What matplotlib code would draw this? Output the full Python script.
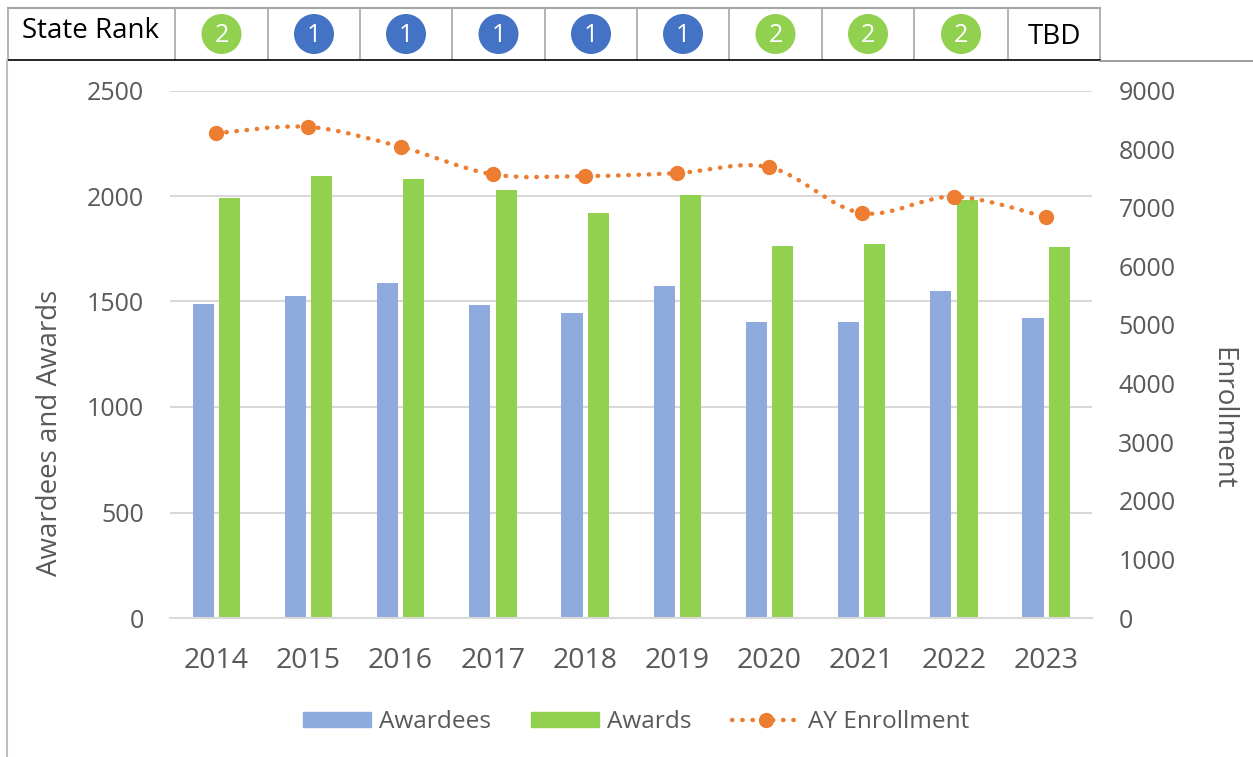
"""Awardees, awards and enrollment per year with a state rank strip on top."""

import matplotlib

matplotlib.use("Agg")
import matplotlib.pyplot as plt
import numpy as np
from matplotlib.lines import Line2D
from matplotlib.patches import Circle, PathPatch
from matplotlib.path import Path

plt.rcParams["font.family"] = ["Open Sans", "DejaVu Sans"]

years = ["2014", "2015", "2016", "2017", "2018", "2019", "2020", "2021", "2022", "2023"]
awardees = [1490, 1528, 1588, 1483, 1447, 1573, 1403, 1403, 1548, 1422]
awards = [1990, 2097, 2082, 2028, 1918, 2007, 1763, 1773, 1982, 1758]
enrollment = [8270, 8380, 8040, 7570, 7540, 7590, 7690, 6910, 7190, 6840]
state_rank = ["2", "1", "1", "1", "1", "1", "2", "2", "2", "TBD"]

W, H = 1253, 757
BLUE = "#8FAADC"
GREEN = "#92D050"
ORANGE = "#ED7D31"
RANK_BLUE = "#4472C4"
TEXT = "#595959"
GRID = "#D9D9D9"
DOTS = (0, (0.1, 2.2))


def smooth_path(xs, ys):
    # same kind of curve as a smoothed Excel line, through the points only
    verts = [(xs[0], ys[0])]
    codes = [Path.MOVETO]
    n = len(xs)
    for i in range(n - 1):
        x0, y0 = xs[max(i - 1, 0)], ys[max(i - 1, 0)]
        x1, y1 = xs[i], ys[i]
        x2, y2 = xs[i + 1], ys[i + 1]
        x3, y3 = xs[min(i + 2, n - 1)], ys[min(i + 2, n - 1)]
        verts += [
            (x1 + (x2 - x0) / 6, y1 + (y2 - y0) / 6),
            (x2 - (x3 - x1) / 6, y2 - (y3 - y1) / 6),
            (x2, y2),
        ]
        codes += [Path.CURVE4] * 3
    return Path(verts, codes)


fig = plt.figure(figsize=(W / 100, H / 100), dpi=100)
ax = fig.add_axes([170 / W, 1 - 618 / H, (1092 - 170) / W, (618 - 90.5) / H])
ax2 = ax.twinx()

x = np.arange(len(years))
bar_w = 0.228
ax.bar(x - 0.14, awardees, bar_w, color=BLUE, zorder=2)
ax.bar(x + 0.145, awards, bar_w, color=GREEN, zorder=2)

ax.set_xlim(-0.5, len(years) - 0.5)
ax.set_ylim(0, 2500)
ax.set_yticks(range(0, 2501, 500))
ax.set_xticks(x, years)
ax.grid(True, axis="y", color=GRID, linewidth=1.5, zorder=0)
ax.set_axisbelow(True)
ax.tick_params(length=0, labelsize=18, labelcolor=TEXT)
ax.tick_params(axis="x", labelsize=20.5, pad=21)
ax.tick_params(axis="y", pad=18.5)
fig.text(50 / W, 1 - 433 / H, "Awardees and Awards", fontsize=20, color=TEXT,
         rotation=90, ha="center", va="center")

ax2.set_ylim(0, 9000)
ax2.set_yticks(range(0, 9001, 1000))
ax2.tick_params(length=0, labelsize=18, labelcolor=TEXT, pad=19)
fig.text(1222 / W, 1 - 418 / H, "Enrollment", fontsize=20, color=TEXT,
         rotation=270, ha="center", va="center")
ax2.add_patch(
    PathPatch(
        smooth_path(x, enrollment),
        fill=False,
        edgecolor=ORANGE,
        linewidth=3.2,
        linestyle=DOTS,
        capstyle="round",
    )
)
ax2.plot(x, enrollment, linestyle="none", marker="o", markersize=10, color=ORANGE)

for a in (ax, ax2):
    for name, spine in a.spines.items():
        spine.set_visible(False)
ax.spines["bottom"].set_visible(True)
ax.spines["bottom"].set_color(GRID)
ax.spines["bottom"].set_linewidth(1.5)

legend_handles = [
    plt.Rectangle((0, 0), 1, 1, color=BLUE),
    plt.Rectangle((0, 0), 1, 1, color=GREEN),
    Line2D([], [], color=ORANGE, linewidth=3.2, linestyle=DOTS,
           marker="o", markersize=10, dash_capstyle="round"),
]
fig.legend(
    legend_handles,
    ["Awardees", "Awards", "AY Enrollment"],
    loc="center",
    bbox_to_anchor=(636 / W, 1 - 722 / H),
    ncol=3,
    frameon=False,
    fontsize=17.6,
    labelcolor=TEXT,
    handlelength=2.78,
    handleheight=0.6,
    handletextpad=0.33,
    columnspacing=1.64,
)

# rank strip on top, drawn in pixel coordinates
strip = fig.add_axes([0, 0, 1, 1], facecolor="none")
strip.set_xlim(0, W)
strip.set_ylim(H, 0)
strip.axis("off")

cell_edges = [8, 175, 268, 360, 452, 545, 637, 729, 822, 914, 1008, 1100]
for e in cell_edges:
    strip.plot([e, e], [8, 59], color="#A6A6A6", linewidth=1.2)
strip.plot([8, 1100], [8, 8], color="#A6A6A6", linewidth=1.5)
strip.plot([8, 1100], [59.5, 59.5], color="#000000", linewidth=1.2)
strip.plot([1100, W], [60.5, 60.5], color="#8C8C8C", linewidth=1.2)
strip.plot([7, 7], [60, H], color="#BFBFBF", linewidth=1.5)

strip.text(91, 31.5, "State Rank", ha="center", va="center", fontsize=20, color="black")
for i, rank in enumerate(state_rank):
    cx = (cell_edges[i + 1] + cell_edges[i + 2]) / 2
    if rank == "TBD":
        strip.text(cx, 36.5, rank, ha="center", va="center", fontsize=20, color="black")
        continue
    color = GREEN if rank == "2" else RANK_BLUE
    strip.add_patch(Circle((cx, 34), 20, facecolor=color, edgecolor="none"))
    strip.text(cx, 36, rank, ha="center", va="center", fontsize=18, color="white")

fig.savefig("out.png", dpi=100, facecolor="white")
